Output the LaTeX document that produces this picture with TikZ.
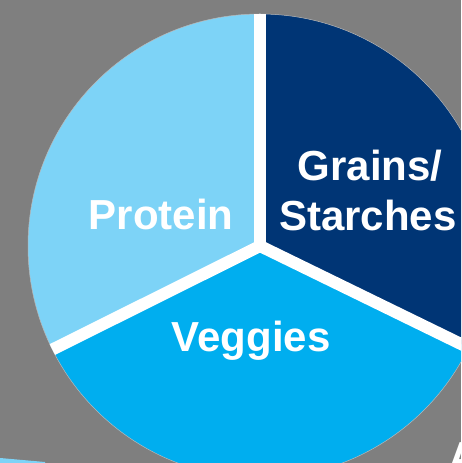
\documentclass[tikz,border=0pt]{standalone}
\usepackage{fontspec}
\setmainfont{Liberation Sans}
\usepackage{xcolor}
\usepackage{tikz}
\usetikzlibrary{positioning, calc}

\definecolor{bggray}{RGB}{127,127,127}
\definecolor{proteinblue}{RGB}{125,211,247}
\definecolor{grainsnavy}{RGB}{0,53,117}
\definecolor{veggiesblue}{RGB}{0,174,239}

\begin{document}
\begin{tikzpicture}[x=1pt, y=1pt,
    slicelabel/.style={text=white, inner sep=0pt, font=\bfseries\fontsize{42}{50}\selectfont},
    divider/.style={white, line width=12pt}]
    % 背景
    \fill[bggray] (0,0) rectangle (461,463);
    \useasboundingbox (0,0) rectangle (461,463);
    \clip (0,0) rectangle (461,463);
    \fill[proteinblue] (0,0) -- (0,5) -- (45,1) -- (45,0) -- cycle;

    % 饼图的三块
    \coordinate (O) at (260,217);
    \fill[proteinblue] (O) -- ++(90:232) arc[start angle=90, end angle=206.5, radius=232] -- cycle;
    \fill[veggiesblue] (O) -- ++(206.5:232) arc[start angle=206.5, end angle=334, radius=232] -- cycle;
    \fill[grainsnavy] (O) -- ++(-26:232) arc[start angle=-26, end angle=90, radius=232] -- cycle;
    \draw[white!45!bggray, line width=0.5pt] (O) circle[radius=232];

    % 白色分隔线
    \coordinate (T) at ($(O)+(90:250)$);
    \coordinate (L) at ($(O)+(206.5:250)$);
    \coordinate (R) at ($(O)+(-26:250)$);
    \begin{scope}
        \clip (O) circle[radius=232];
        \fill[white] (O) circle[radius=6];
        \draw[divider] (O) -- (T);
        \draw[divider] (O) -- (L);
        \draw[divider] (O) -- (R);
    \end{scope}

    % 文字
    \node[slicelabel, anchor=base] (protein) at (161,233) {Protein};
    \node[slicelabel, anchor=base] (grains) at (370,282) {Grains/};
    \node[slicelabel, anchor=base] (starches) at (368,232) {Starches};
    \node[slicelabel, anchor=base] (veggies) at (251,111) {Veggies};
    \node[slicelabel, anchor=base west] (corner) at (448,-9) {A};
\end{tikzpicture}
\end{document}
